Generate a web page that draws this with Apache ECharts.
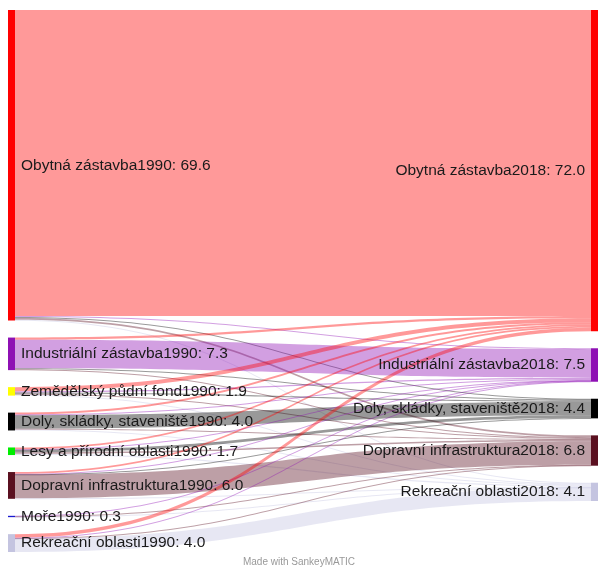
<!DOCTYPE html>
<html>
<head>
<meta charset="utf-8">
<script src="https://cdn.jsdelivr.net/npm/echarts@6/dist/echarts.min.js"></script>
<style>
  html, body { margin: 0; padding: 0; background: #fff; }
  #chart { width: 598px; height: 572px; }
</style>
</head>
<body>
<div id="chart"></div>
<script>
// nodes 1990 (left) and 2018 (right)
var leftNodes = ['Obytná zástavba1990', 'Industriální zástavba1990', 'Zemědělský půdní fond1990',
  'Doly, skládky, staveniště1990', 'Lesy a přírodní oblasti1990', 'Dopravní infrastruktura1990',
  'Moře1990', 'Rekreační oblasti1990'];
var leftColors = ['#ff0000', '#8e10b4', '#ffff00', '#000000', '#00ee00', '#5a1020', '#1a1ad0', '#c4c4e0'];

var rightNodes = ['Obytná zástavba2018', 'Industriální zástavba2018', 'Doly, skládky, staveniště2018',
  'Dopravní infrastruktura2018', 'Rekreační oblasti2018'];
var rightColors = ['#ff0000', '#8e10b4', '#000000', '#5a1020', '#c4c4e0'];

// flows: one row per left node, columns follow rightNodes
var flows = [
  [68.6, 0.2, 0.2, 0.4, 0.2],
  [0.5, 6.4, 0.2, 0.2, 0.0],
  [0.9, 0.3, 0.3, 0.2, 0.2],
  [0.4, 0.2, 3.0, 0.2, 0.2],
  [0.4, 0.1, 0.6, 0.3, 0.3],
  [0.4, 0.1, 0.1, 5.3, 0.1],
  [0.0, 0.1, 0.0, 0.1, 0.1],
  [0.8, 0.1, 0.0, 0.1, 3.0]
];

var nodes = [];
leftNodes.forEach(function (n, i) {
  nodes.push({ name: n, itemStyle: { color: leftColors[i] }, label: { position: 'right' } });
});
rightNodes.forEach(function (n, i) {
  nodes.push({ name: n, itemStyle: { color: rightColors[i] }, label: { position: 'left' } });
});

var links = [];
flows.forEach(function (row, i) {
  row.forEach(function (v, j) {
    if (v > 0) links.push({ source: leftNodes[i], target: rightNodes[j], value: v });
  });
});

var myChart = echarts.init(document.getElementById('chart'));
myChart.setOption({
  animation: false,
  title: {
    text: 'Made with SankeyMATIC',
    left: 'center',
    bottom: 0,
    textStyle: { fontSize: 10, fontWeight: 'normal', color: '#999', fontFamily: 'Liberation Sans' }
  },
  series: [{
    type: 'sankey',
    left: 8,
    right: 0,
    top: 10,
    bottom: 20,
    nodeWidth: 7,
    nodeGap: 17,
    nodeAlign: 'justify',
    layoutIterations: 0,
    draggable: false,
    data: nodes,
    links: links,
    itemStyle: { borderWidth: 0 },
    lineStyle: { color: 'target', opacity: 0.4, curveness: 0.5 },
    label: {
      fontSize: 15.5,
      fontFamily: 'Liberation Sans',
      color: '#1a1a1a',
      distance: 6,
      formatter: function (p) { return p.name + ': ' + p.value.toFixed(1); }
    },
    emphasis: { disabled: true }
  }]
});
</script>
</body>
</html>
